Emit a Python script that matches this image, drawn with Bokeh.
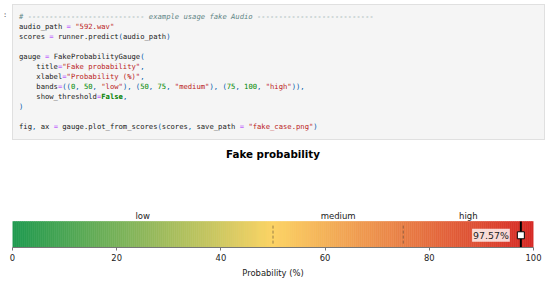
import re
import html
import numpy as np
from bokeh.plotting import figure
from bokeh.models import Div, Label, Range1d, FixedTicker
from bokeh.layouts import column
from bokeh.core.properties import value
from bokeh.embed import file_html
from bokeh.resources import INLINE

# ---------------- data ----------------
code_lines = [
    "# --------------------------- example usage fake Audio ---------------------------",
    'audio_path = "592.wav"',
    "scores = runner.predict(audio_path)",
    "",
    "gauge = FakeProbabilityGauge(",
    '    title="Fake probability",',
    '    xlabel="Probability (%)",',
    '    bands=((0, 50, "low"), (50, 75, "medium"), (75, 100, "high")),',
    "    show_threshold=False,",
    ")",
    "",
    'fig, ax = gauge.plot_from_scores(scores, save_path = "fake_case.png")',
]
title_text = "Fake probability"
xlabel_text = "Probability (%)"
band_starts = [0, 50, 75]
band_ends = [50, 75, 100]
band_labels = ["low", "medium", "high"]
score = 97.57
x_ticks = [0, 20, 40, 60, 80, 100]

# colour ramp (green -> yellow -> red)
ramp_pos = [0, 50, 100]
ramp_rgb = [(30, 154, 80), (252, 212, 102), (214, 42, 38)]

# ---------------- code cell ----------------
STY = {
    "comment": "color:#5f8585;font-style:italic",
    "string": "color:#ba2121",
    "number": "color:#008800",
    "keyword": "color:#008000;font-weight:bold",
    "operator": "color:#aa22ff",
    "punct": "color:#0055aa",
    "name": "color:#212121",
    "ws": "",
    "other": "color:#212121",
}
TOK = re.compile(
    r'(?P<comment>#.*$)|(?P<string>"[^"]*")|(?P<number>\b\d+(?:\.\d+)?\b)|'
    r'(?P<keyword>\b(?:False|True|None)\b)|(?P<operator>=)|(?P<punct>[(),\[\]])|'
    r'(?P<name>[A-Za-z_][A-Za-z_0-9]*)|(?P<ws>\s+)|(?P<other>.)'
)


def highlight(line):
    out = []
    for m in TOK.finditer(line):
        kind = m.lastgroup
        txt = html.escape(m.group())
        if STY[kind]:
            out.append(f'<span style="{STY[kind]}">{txt}</span>')
        else:
            out.append(txt)
    return "".join(out) if out else " "


code_html = "\n".join(highlight(l) for l in code_lines)

div_html = f"""
<div style="position:relative;width:550px;height:140px;">
  <span style="position:absolute;left:3px;top:10px;font-family:'DejaVu Sans Mono';font-size:7px;color:#616161;">:</span>
  <pre style="position:absolute;left:12px;top:4px;width:533px;height:136px;margin:0;
       padding:7px 0 0 6px;box-sizing:border-box;background:#f5f5f5;border:1px solid #e0e0e0;
       font-family:'DejaVu Sans Mono';font-size:7.2px;line-height:10px;color:#212121;
       overflow:hidden;white-space:pre;">{code_html}</pre>
</div>
"""
div = Div(text=div_html, width=550, height=140, margin=0)

# ---------------- gauge ----------------
FRAME_H = 107
BAR_PX = 26
p = figure(
    width=550, height=141,
    x_range=Range1d(0, 100), y_range=Range1d(0, FRAME_H / BAR_PX),
    output_backend="svg", toolbar_location=None,
    min_border_left=12, min_border_right=17, min_border_top=0, min_border_bottom=34,
    y_axis_location=None, margin=0,
)
p.outline_line_color = None
p.grid.visible = False
p.background_fill_color = "white"
p.border_fill_color = "white"

n = 260
edges = np.linspace(0, 100, n + 1)
mids = (edges[:-1] + edges[1:]) / 2
cols = []
for m in mids:
    r = np.interp(m, ramp_pos, [c[0] for c in ramp_rgb])
    g = np.interp(m, ramp_pos, [c[1] for c in ramp_rgb])
    b = np.interp(m, ramp_pos, [c[2] for c in ramp_rgb])
    cols.append("#%02x%02x%02x" % (int(round(r)), int(round(g)), int(round(b))))
p.quad(left=edges[:-1], right=edges[1:], bottom=0, top=1,
       fill_color=cols, line_color=cols, line_width=0.6)

# band boundaries (dashed)
inner = band_ends[:-1]
p.segment(x0=inner, y0=[0.15] * len(inner), x1=inner, y1=[0.85] * len(inner),
          line_color="#5a4636", line_alpha=0.6, line_width=1, line_dash="3 2")

# band labels
p.text(x=[(s + e) / 2 for s, e in zip(band_starts, band_ends)],
       y=[1 + 1.0 / BAR_PX] * len(band_labels), text=band_labels,
       text_align="center", text_baseline="bottom",
       text_font=value("DejaVu Sans"), text_font_size="8.5px", text_color="#222222")

# title
p.text(x=[50], y=[(FRAME_H - 13) / BAR_PX], text=[title_text],
       text_align="center", text_baseline="middle",
       text_font=value("DejaVu Sans"), text_font_size="10.3px",
       text_font_style="bold", text_color="#000000")

# score marker
p.segment(x0=[score], y0=[0], x1=[score], y1=[1], line_color="black", line_width=2)
p.scatter(x=[score], y=[0.47], marker="square", size=7,
          fill_color="white", line_color="black", line_width=1)

lab = Label(x=score, y=0.47, x_offset=-11, text=f"{score:.2f}%",
            text_align="right", text_baseline="middle",
            text_font="DejaVu Sans", text_font_size="9.4px", text_color="#222222",
            background_fill_color="white", background_fill_alpha=0.8,
            padding=1)
p.add_layout(lab)

ax = p.xaxis[0]
ax.ticker = FixedTicker(ticks=x_ticks)
ax.axis_label = xlabel_text
ax.axis_label_text_font = "DejaVu Sans"
ax.axis_label_text_font_size = "8.4px"
ax.axis_label_text_font_style = "normal"
ax.axis_label_text_color = "#222222"
ax.axis_label_standoff = 4
ax.major_label_text_font = "DejaVu Sans"
ax.major_label_text_font_size = "8.4px"
ax.major_label_text_color = "#222222"
ax.major_label_standoff = 3
ax.major_tick_out = 3
ax.major_tick_in = 0
ax.minor_tick_out = 0
ax.minor_tick_in = 0
ax.axis_line_color = "#777777"
ax.major_tick_line_color = "#777777"

layout = column(div, p, spacing=0)
open("out.html", "w").write(file_html(layout, INLINE))
